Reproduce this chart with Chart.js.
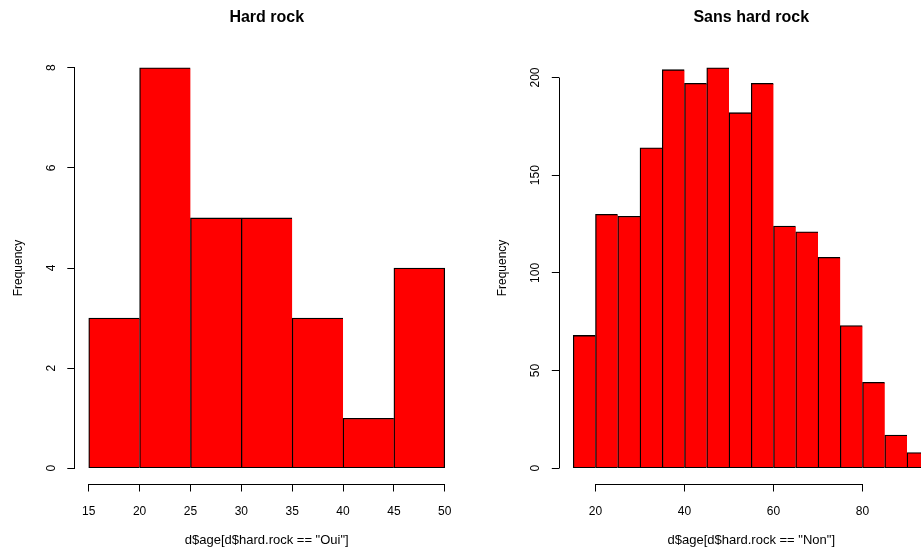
<!DOCTYPE html>
<html>
<head>
<meta charset="utf-8">
<script src="https://cdn.jsdelivr.net/npm/chart.js@4.4.1/dist/chart.umd.min.js"></script>
<style>
  html, body { margin: 0; padding: 0; background: #fff; overflow: hidden; }
  #wrap { position: relative; width: 921px; height: 550px; overflow: hidden; background: #fff; }
  .panel { position: absolute; top: 0; width: 485px; height: 550px; }
  #p1 { left: 0; }
  #p2 { left: 484px; }
</style>
</head>
<body>
<div id="wrap">
  <div class="panel" id="p1"><canvas id="c1" width="485" height="550"></canvas></div>
  <div class="panel" id="p2"><canvas id="c2" width="485" height="550"></canvas></div>
</div>
<script>
// Age histograms: listeners of hard rock vs. everyone else
const hardRockBreaks = [15, 20, 25, 30, 35, 40, 45, 50];
const hardRockCounts = [3, 8, 5, 5, 3, 1, 4];
const hardRockXTicks = [15, 20, 25, 30, 35, 40, 45, 50];
const hardRockYTicks = [0, 2, 4, 6, 8];

const otherBreaks = [15, 20, 25, 30, 35, 40, 45, 50, 55, 60, 65, 70, 75, 80, 85, 90, 95];
const otherCounts = [68, 130, 129, 164, 204, 197, 205, 182, 197, 124, 121, 108, 73, 44, 17, 8];
const otherXTicks = [20, 40, 60, 80];
const otherYTicks = [0, 50, 100, 150, 200];

const panelTitles = ['Hard rock', 'Sans hard rock'];
const xTitles = ['d$age[d$hard.rock == "Oui"]', 'd$age[d$hard.rock == "Non"]'];
const yTitle = 'Frequency';

const FONT = '"Liberation Sans", Arial, Helvetica, sans-serif';

// Draws the axis lines from the first to the last tick, base-graphics style
const axisLines = {
  id: 'axisLines',
  afterDraw(chart) {
    const { ctx, chartArea, scales: { x, y } } = chart;
    const al = p => Math.round(p - 0.5) + 0.5;
    ctx.save();
    ctx.strokeStyle = '#000';
    ctx.lineWidth = 1;
    ctx.beginPath();
    const yb = al(chartArea.bottom);
    ctx.moveTo(al(x.getPixelForValue(x.ticks[0].value)), yb);
    ctx.lineTo(al(x.getPixelForValue(x.ticks[x.ticks.length - 1].value)), yb);
    const xl = al(chartArea.left);
    ctx.moveTo(xl, al(y.getPixelForValue(y.ticks[0].value)));
    ctx.lineTo(xl, al(y.getPixelForValue(y.ticks[y.ticks.length - 1].value)));
    ctx.stroke();
    ctx.restore();
  }
};

function histogram(canvasId, breaks, counts, xTicks, yTicks, title, xTitle, yAxisWidth, yLabelPad) {
  const points = counts.map((c, i) => ({ x: (breaks[i] + breaks[i + 1]) / 2, y: c }));
  const xSpan = breaks[breaks.length - 1] - breaks[0];
  const yMax = Math.max(...counts);
  const last = counts.length - 1;
  return new Chart(document.getElementById(canvasId), {
    type: 'bar',
    data: {
      datasets: [{
        data: points,
        backgroundColor: '#ff0000',
        borderColor: '#000000',
        borderSkipped: false,
        borderWidth: c => ({ top: 1.3, bottom: 1, left: 1.3, right: c.dataIndex === last ? 1.3 : 0 }),
        barPercentage: 1,
        categoryPercentage: 1
      }]
    },
    options: {
      responsive: false,
      animation: false,
      events: [],
      layout: { padding: { top: 0, left: 0, right: 485 - yAxisWidth - 384.5, bottom: 0 } },
      plugins: {
        legend: { display: false },
        tooltip: { enabled: false },
        title: {
          display: true,
          text: title,
          fullSize: false,
          color: '#000',
          font: { family: FONT, size: 16, weight: 'bold', lineHeight: 1.2 },
          padding: { top: 8.4, bottom: 24.1 }
        }
      },
      scales: {
        x: {
          type: 'linear',
          offset: false,
          min: breaks[0] - 0.04 * xSpan,
          max: breaks[breaks.length - 1] + 0.04 * xSpan,
          afterBuildTicks: s => { s.ticks = xTicks.map(v => ({ value: v })); },
          afterFit: s => { s.height = 550 - 484.3; },
          border: { display: false },
          grid: { offset: false, drawOnChartArea: false, drawTicks: true, tickLength: 7.2, tickColor: '#000', tickWidth: 1 },
          ticks: { color: '#000', font: { family: FONT, size: 12 }, padding: 12.5, maxRotation: 0, autoSkip: false },
          title: { display: true, text: xTitle, color: '#000', font: { family: FONT, size: 13 }, padding: { top: 0, bottom: 2 } }
        },
        y: {
          type: 'linear',
          min: -0.04 * yMax,
          max: yMax * 1.04,
          afterBuildTicks: s => { s.ticks = yTicks.map(v => ({ value: v })); },
          afterFit: s => { s.width = yAxisWidth; },
          border: { display: false },
          grid: { drawOnChartArea: false, drawTicks: true, tickLength: 7.2, tickColor: '#000', tickWidth: 1 },
          ticks: { color: '#000', font: { family: FONT, size: 12 }, minRotation: 90, maxRotation: 90, crossAlign: 'center', padding: yLabelPad - 1.5, autoSkip: false },
          title: { display: true, text: yTitle, color: '#000', font: { family: FONT, size: 12 }, padding: { top: 11.8, bottom: 0 } }
        }
      }
    },
    plugins: [axisLines]
  });
}

histogram('c1', hardRockBreaks, hardRockCounts, hardRockXTicks, hardRockYTicks, panelTitles[0], xTitles[0], 74.5, 14);
histogram('c2', otherBreaks, otherCounts, otherXTicks, otherYTicks, panelTitles[1], xTitles[1], 75, 7.3);
</script>
</body>
</html>
